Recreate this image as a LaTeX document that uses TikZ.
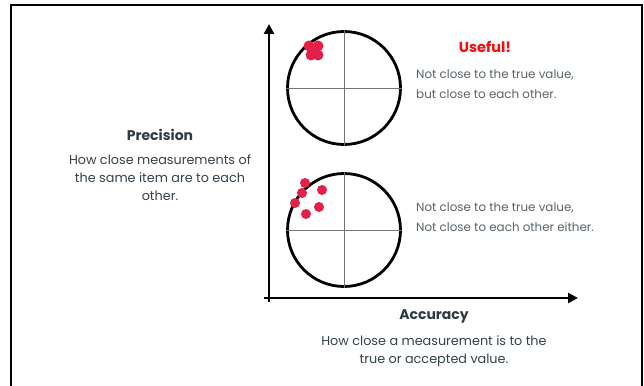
\documentclass[tikz,border=0pt]{standalone}
\usepackage{fontspec}
\setmainfont{Poppins}
\usetikzlibrary{arrows.meta}
\definecolor{dotred}{RGB}{226,32,72}
\definecolor{bodygray}{RGB}{88,100,108}
\definecolor{darktxt}{RGB}{52,66,74}
\definecolor{titletxt}{RGB}{44,60,68}
\definecolor{useful}{RGB}{250,10,10}
\tikzset{
  target/.style={circle,draw=black,line width=2.8pt,minimum size=113pt,inner sep=0pt},
  cross/.style={draw=black!55,line width=0.6pt},
  dot/.style={circle,fill=dotred,minimum size=11pt,inner sep=0pt},
  axis/.style={line width=2.4pt,-{Triangle[width=10pt,length=10pt]}},
  sidenote/.style={align=left,anchor=west,font=\fontsize{11.9}{20}\selectfont,text=bodygray,inner sep=0pt},
  title/.style={font=\fontsize{14}{16}\bfseries\selectfont,text=titletxt,inner sep=0pt},
  body/.style={align=center,font=\fontsize{12.8}{18}\selectfont,text=darktxt,inner sep=0pt}
}
\begin{document}
\begin{tikzpicture}[x=1pt,y=-1pt]
\useasboundingbox (0,0) rectangle (644,385);
\fill[white] (0,0) rectangle (644,385);
% frame
\draw[line width=2pt] (11,390) -- (11,5) -- (642,5) -- (642,390);
% axes
\coordinate (ybot) at (269,302);
\coordinate (ytop) at (269,24);
\coordinate (xleft) at (264,298);
\coordinate (xright) at (578,298);
\draw[axis] (ybot) -- (ytop);
\draw[axis] (xleft) -- (xright);
% targets
\node[target] (t1) at (344,88) {};
\node[target] (t2) at (344,230) {};
\draw[cross] (t1.west) -- (t1.east);
\draw[cross] (t1.north) -- (t1.south);
\draw[cross] (t2.west) -- (t2.east);
\draw[cross] (t2.north) -- (t2.south);
% dots top
\node[dot] (a1) at (309,46) {};
\node[dot] (a2) at (318,46) {};
\node[dot] (a3) at (311,55) {};
\node[dot] (a4) at (318,55) {};
\node[dot] (a5) at (314,50) {};
% dots bottom
\node[dot,minimum size=10pt] (b1) at (305,183) {};
\node[dot,minimum size=10pt] (b2) at (302,193) {};
\node[dot,minimum size=10pt] (b3) at (322,190) {};
\node[dot,minimum size=10pt] (b4) at (295,203) {};
\node[dot,minimum size=10pt] (b5) at (319,207) {};
\node[dot,minimum size=10pt] (b6) at (306,214) {};
% right notes
\node[font=\fontsize{14.5}{16}\bfseries\selectfont,text=useful,inner sep=0pt] (useful) at (485,47) {Useful!};
\node[sidenote] (n1) at (416,84) {Not close to the true value,\\but close to each other.};
\node[sidenote] (n2) at (416,217.5) {Not close to the true value,\\Not close to each other either.};
% precision
\node[title] (prec) at (160,135) {Precision};
\node[body] (precb) at (160,177.5) {How close measurements of\\the same item are to each\\other.};
% accuracy
\node[title] (acc) at (434,316) {Accuracy};
\node[body] (accb) at (434,351.5) {How close a measurement is to the\\true or accepted value.};
\end{tikzpicture}
\end{document}
